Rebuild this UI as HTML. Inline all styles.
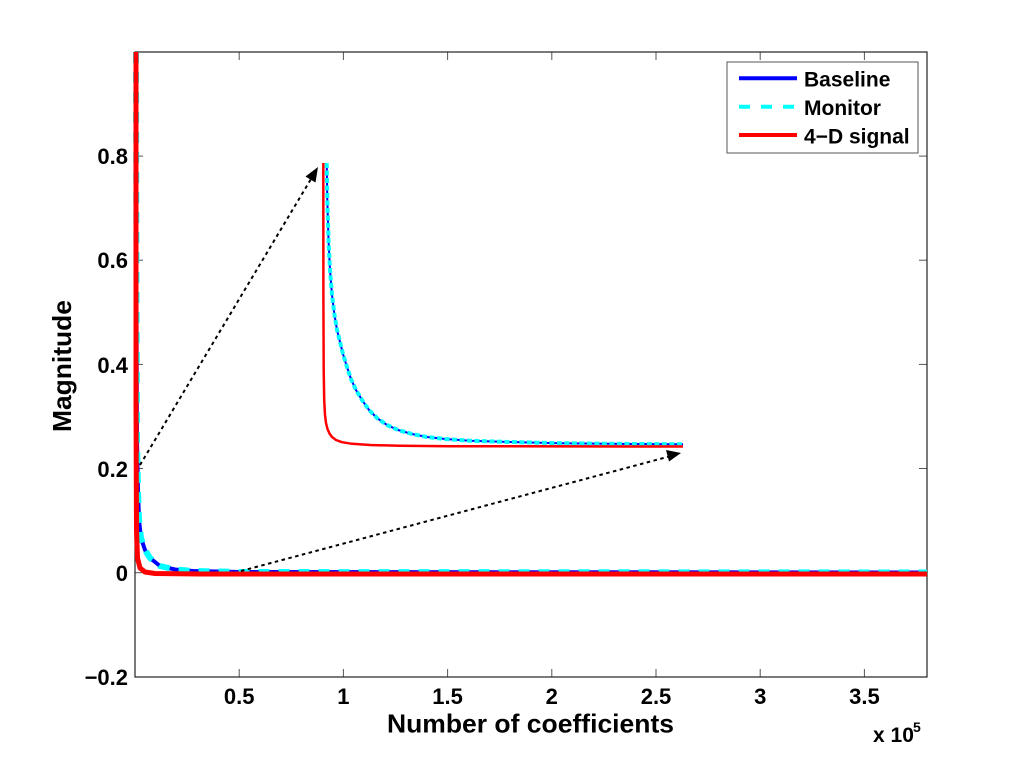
<!DOCTYPE html>
<html>
<head>
<meta charset="utf-8">
<style>
html,body{margin:0;padding:0;background:#fff;}
svg{display:block;}
text{font-family:"Liberation Sans",Arial,sans-serif;font-weight:bold;fill:#000;}
</style>
</head>
<body>
<svg width="1024" height="768" viewBox="0 0 1024 768" xmlns="http://www.w3.org/2000/svg">
<rect width="1024" height="768" fill="#fff"/>

<!-- ticks -->
<g stroke="#555" stroke-width="1">
  <line x1="239.2" y1="677" x2="239.2" y2="669"/>
  <line x1="343.4" y1="677" x2="343.4" y2="669"/>
  <line x1="447.6" y1="677" x2="447.6" y2="669"/>
  <line x1="551.8" y1="677" x2="551.8" y2="669"/>
  <line x1="656" y1="677" x2="656" y2="669"/>
  <line x1="760.2" y1="677" x2="760.2" y2="669"/>
  <line x1="864.4" y1="677" x2="864.4" y2="669"/>
  <line x1="239.2" y1="52" x2="239.2" y2="60"/>
  <line x1="343.4" y1="52" x2="343.4" y2="60"/>
  <line x1="447.6" y1="52" x2="447.6" y2="60"/>
  <line x1="551.8" y1="52" x2="551.8" y2="60"/>
  <line x1="656" y1="52" x2="656" y2="60"/>
  <line x1="760.2" y1="52" x2="760.2" y2="60"/>
  <line x1="864.4" y1="52" x2="864.4" y2="60"/>
  <line x1="135" y1="572.7" x2="143" y2="572.7"/>
  <line x1="135" y1="468.5" x2="143" y2="468.5"/>
  <line x1="135" y1="364.4" x2="143" y2="364.4"/>
  <line x1="135" y1="260.2" x2="143" y2="260.2"/>
  <line x1="135" y1="156.1" x2="143" y2="156.1"/>
  <line x1="927" y1="572.7" x2="919" y2="572.7"/>
  <line x1="927" y1="468.5" x2="919" y2="468.5"/>
  <line x1="927" y1="364.4" x2="919" y2="364.4"/>
  <line x1="927" y1="260.2" x2="919" y2="260.2"/>
  <line x1="927" y1="156.1" x2="919" y2="156.1"/>
</g>

<!-- axes box -->
<rect x="135" y="52" width="792" height="625" fill="none" stroke="#222" stroke-width="1.2"/>

<!-- main curves -->
<polyline fill="none" stroke="#0000ff" stroke-width="4" stroke-linejoin="round"
  points="136,52 136.5,300 137,440 138,490 139,520 141,538 145,550 150,558 160,566 175,569.5 193,571 240,572 927,572.5"/>
<polyline fill="none" stroke="#00ffff" stroke-width="6" stroke-dasharray="11 9" stroke-linejoin="round"
  points="136,52 136.5,300 137,440 138,490 139,520 141,538 145,550 150,558 160,566 175,569.5 193,571 240,572 927,572.5"/>
<polyline fill="none" stroke="#ff0000" stroke-width="5" stroke-linejoin="round"
  points="136,52 136,400 136.5,530 137.5,558 140,568 145,572 155,573.5 200,574 927,574"/>

<!-- inset curves -->
<polyline fill="none" stroke="#0000ff" stroke-width="2" stroke-linejoin="round"
  points="326.7,163 327.3,200 328.5,240 330,270 332,295 334.5,315 337,330 340,342 343,354 347,367 351,379 356,390 362,400 369,410 377,418 387,425 398,430 412,434 427,437 445,439 470,440.7 510,442 560,443.2 620,443.9 683,444.3"/>
<polyline fill="none" stroke="#00ffff" stroke-width="4" stroke-dasharray="5 2.5" stroke-linejoin="round"
  points="326.7,163 327.3,200 328.5,240 330,270 332,295 334.5,315 337,330 340,342 343,354 347,367 351,379 356,390 362,400 369,410 377,418 387,425 398,430 412,434 427,437 445,439 470,440.7 510,442 560,443.2 620,443.9 683,444.3"/>
<polyline fill="none" stroke="#ff0000" stroke-width="2.5" stroke-linejoin="round"
  points="323.3,163 323.4,300 323.7,370 324.2,400 325,415 326,423 327.5,429 329.5,433.5 332,437 336,440 342,442.2 352,443.8 370,445 400,445.8 450,446.2 683,446.5"/>

<!-- arrows -->
<g stroke="#000" stroke-width="2" stroke-dasharray="3.5 3.5" fill="none">
  <line x1="140" y1="465" x2="311" y2="179"/>
  <line x1="241" y1="571" x2="671" y2="456"/>
</g>
<polygon points="318,167 315.5,182.5 305.5,176.5" fill="#000"/>
<polygon points="681,453 669,461.5 666,450" fill="#000"/>

<!-- y tick labels -->
<g font-size="22" text-anchor="end">
  <text x="128" y="581">0</text>
  <text x="128" y="477">0.2</text>
  <text x="128" y="373">0.4</text>
  <text x="128" y="268">0.6</text>
  <text x="128" y="164">0.8</text>
  <text x="128" y="685">−0.2</text>
</g>

<!-- x tick labels -->
<g font-size="22" text-anchor="middle">
  <text x="239.2" y="704">0.5</text>
  <text x="343.4" y="704">1</text>
  <text x="447.6" y="704">1.5</text>
  <text x="551.8" y="704">2</text>
  <text x="656" y="704">2.5</text>
  <text x="760.2" y="704">3</text>
  <text x="864.4" y="704">3.5</text>
</g>

<!-- axis labels -->
<text x="387" y="732.5" font-size="26" textLength="287" lengthAdjust="spacingAndGlyphs">Number of coefficients</text>
<text transform="translate(71,366) rotate(-90)" font-size="26" text-anchor="middle" textLength="132" lengthAdjust="spacingAndGlyphs">Magnitude</text>
<text x="873" y="742" font-size="21">x 10</text>
<text x="913" y="732" font-size="14">5</text>

<!-- legend -->
<rect x="727" y="62" width="191" height="91" fill="#fff" stroke="#555" stroke-width="1"/>
<line x1="739" y1="78.3" x2="797" y2="78.3" stroke="#0000ff" stroke-width="4"/>
<line x1="739" y1="106.7" x2="797" y2="106.7" stroke="#00ffff" stroke-width="4" stroke-dasharray="11 11"/>
<line x1="739" y1="135" x2="797" y2="135" stroke="#ff0000" stroke-width="4"/>
<g font-size="21">
  <text x="804" y="86.5">Baseline</text>
  <text x="804" y="115">Monitor</text>
  <text x="804" y="143.3">4−D signal</text>
</g>
</svg>
</body>
</html>
